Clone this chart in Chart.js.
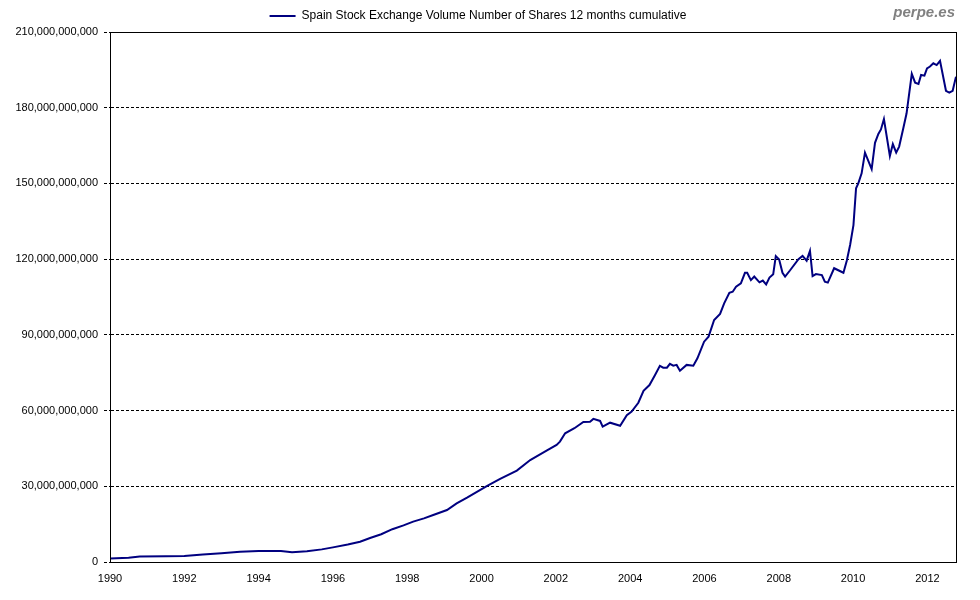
<!DOCTYPE html>
<html>
<head>
<meta charset="utf-8">
<script src="https://cdn.jsdelivr.net/npm/chart.js@4/dist/chart.umd.min.js"></script>
<style>
  html, body { margin: 0; padding: 0; background: #fff; }
  #wrap { width: 980px; height: 600px; position: relative; }
</style>
</head>
<body>
<div id="wrap"><canvas id="c" width="980" height="600"></canvas></div>
<script>
// Dates as decimal years, volumes in billions of shares (12 months cumulative)
const dates = [
  1990.0, 1990.5, 1990.8, 1991.5, 1992.0, 1992.5, 1993.0, 1993.5, 1994.0, 1994.6,
  1994.9, 1995.3, 1995.7, 1996.0, 1996.4, 1996.73, 1997.0, 1997.3, 1997.6, 1997.9,
  1998.16, 1998.45, 1998.7, 1999.07, 1999.33, 1999.61, 2000.14, 2000.5, 2000.95, 2001.31,
  2001.75, 2002.02, 2002.11, 2002.25, 2002.5, 2002.74, 2002.92, 2003.01, 2003.19, 2003.26,
  2003.46, 2003.73, 2003.91, 2004.04, 2004.22, 2004.36, 2004.52, 2004.67, 2004.80, 2004.89,
  2004.99, 2005.07, 2005.16, 2005.25, 2005.34, 2005.52, 2005.70, 2005.81, 2005.99, 2006.11,
  2006.26, 2006.42, 2006.53, 2006.67, 2006.76, 2006.85, 2006.98, 2007.09, 2007.15, 2007.25,
  2007.34, 2007.48, 2007.57, 2007.66, 2007.75, 2007.85, 2007.92, 2008.01, 2008.10, 2008.17,
  2008.30, 2008.53, 2008.64, 2008.75, 2008.84, 2008.91, 2009.0, 2009.16, 2009.24, 2009.32,
  2009.49, 2009.74, 2009.83, 2009.92, 2010.01, 2010.08, 2010.14, 2010.23, 2010.32, 2010.50,
  2010.59, 2010.68, 2010.75, 2010.83, 2010.99, 2011.07, 2011.16, 2011.24, 2011.35, 2011.44,
  2011.58, 2011.67, 2011.76, 2011.83, 2011.92, 2011.99, 2012.07, 2012.16, 2012.25, 2012.34,
  2012.50, 2012.59, 2012.68, 2012.77
];
const volumes = [
  1.4, 1.7, 2.2, 2.3, 2.4, 3.0, 3.5, 4.1, 4.4, 4.4,
  3.9, 4.3, 5.0, 5.8, 6.9, 8.0, 9.5, 11.0, 13.0, 14.5,
  16.0, 17.3, 18.6, 20.6, 23.2, 25.5, 30.1, 32.9, 36.2, 40.4,
  44.1, 46.4, 47.7, 51.0, 53.0, 55.5, 55.6, 56.7, 55.9, 53.6,
  55.2, 54.0, 58.2, 59.6, 63.1, 67.8, 70.1, 74.1, 77.7, 77.0,
  77.0, 78.5, 77.8, 78.1, 75.8, 78.1, 77.8, 80.7, 87.3, 89.3,
  95.9, 98.3, 102.5, 106.7, 107.1, 109.1, 110.4, 114.6, 114.6, 111.7,
  113.1, 110.8, 111.5, 110.0, 112.7, 114.0, 121.2, 119.9, 114.6, 113.1,
  115.5, 120.0, 121.3, 119.4, 123.3, 113.3, 114.1, 113.7, 111.1, 110.7,
  116.4, 114.6, 119.4, 125.6, 133.5, 148.1, 150.0, 154.0, 162.2, 155.7,
  166.1, 169.6, 171.4, 175.5, 160.9, 165.6, 162.2, 164.6, 171.8, 177.8,
  193.4, 189.9, 189.4, 193.0, 192.7, 195.6, 196.3, 197.6, 196.9, 198.6,
  186.7, 186.0, 186.7, 192.3
];
const xTickYears = [1990, 1992, 1994, 1996, 1998, 2000, 2002, 2004, 2006, 2008, 2010, 2012];
const yTickValues = [0, 30, 60, 90, 120, 150, 180, 210];
const seriesLabel = 'Spain Stock Exchange Volume Number of Shares 12 months cumulative';
const watermark = 'perpe.es';

const points = dates.map((d, i) => ({ x: d, y: volumes[i] }));
const FONT = 'Arial, "Liberation Sans", sans-serif';

const framePlugin = {
  id: 'frame',
  afterDraw(chart) {
    const { ctx, chartArea: a } = chart;
    ctx.save();
    ctx.strokeStyle = '#000';
    ctx.lineWidth = 1;
    ctx.strokeRect(Math.round(a.left) + 0.5, Math.round(a.top) + 0.5,
                   Math.round(a.right - a.left), Math.round(a.bottom - a.top));
    ctx.font = 'italic bold 15px ' + FONT;
    ctx.fillStyle = '#808080';
    ctx.textAlign = 'right';
    ctx.textBaseline = 'middle';
    ctx.fillText(watermark, 955, 13);
    ctx.restore();
  }
};

new Chart(document.getElementById('c'), {
  type: 'line',
  data: {
    datasets: [{
      label: seriesLabel,
      data: points,
      borderColor: '#000080',
      backgroundColor: '#000080',
      borderWidth: 2,
      pointRadius: 0,
      tension: 0,
      fill: false
    }]
  },
  options: {
    responsive: false,
    animation: false,
    devicePixelRatio: 1,
    layout: { padding: { left: 0, right: 24, top: 0, bottom: 0 } },
    plugins: {
      legend: {
        display: true,
        position: 'top',
        labels: {
          boxWidth: 26,
          boxHeight: 2,
          padding: 10,
          color: '#000',
          font: { family: FONT, size: 12 },
          generateLabels(chart) {
            const items = Chart.defaults.plugins.legend.labels.generateLabels(chart);
            items.forEach(it => { it.lineWidth = 0; it.strokeStyle = 'rgba(0,0,0,0)'; });
            return items;
          }
        }
      },
      tooltip: { enabled: false }
    },
    scales: {
      x: {
        type: 'linear',
        min: dates[0],
        max: dates[dates.length - 1],
        afterBuildTicks(scale) { scale.ticks = xTickYears.map(v => ({ value: v })); },
        afterFit(scale) { scale.height = 38; },
        grid: { display: false, drawTicks: false },
        border: { display: true, color: '#000', width: 1 },
        ticks: {
          color: '#000',
          padding: 10,
          maxRotation: 0,
          autoSkip: false,
          font: { family: FONT, size: 11 },
          callback: v => String(v)
        }
      },
      y: {
        min: 0,
        max: 210,
        afterBuildTicks(scale) { scale.ticks = yTickValues.map(v => ({ value: v })); },
        afterFit(scale) { scale.width = 110; },
        grid: {
          color: '#000',
          lineWidth: 1,
          tickLength: 6,
          drawTicks: true,
          tickColor: '#000',
          tickBorderDash: [3, 2]
        },
        border: { display: true, color: '#000', width: 1, dash: [3, 2] },
        ticks: {
          color: '#000',
          padding: 6,
          font: { family: FONT, size: 11 },
          callback: v => (v * 1e9).toLocaleString('en-US')
        }
      }
    }
  },
  plugins: [framePlugin]
});
</script>
</body>
</html>
